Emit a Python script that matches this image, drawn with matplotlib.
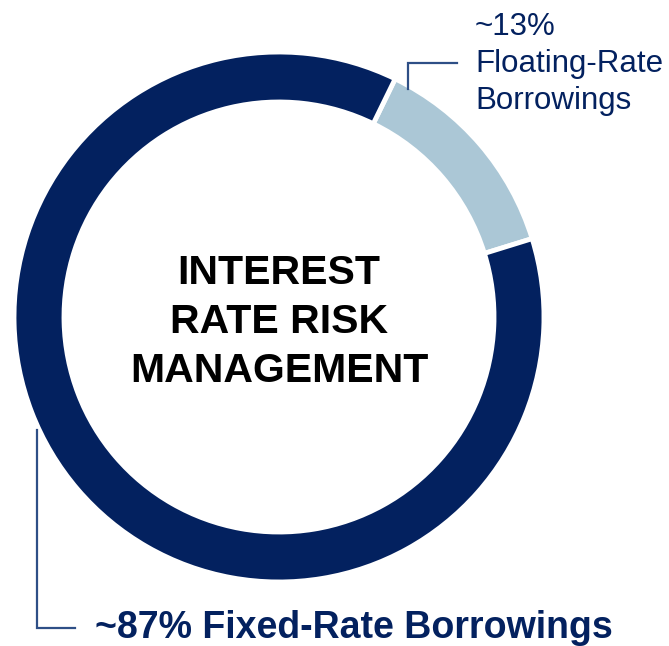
import matplotlib
matplotlib.use("Agg")
import matplotlib.pyplot as plt

categories = ["Floating-Rate Borrowings", "Fixed-Rate Borrowings"]
shares = [13, 87]
share_labels = ["~13%", "~87%"]
center_title = "INTEREST\nRATE RISK\nMANAGEMENT"

NAVY = "#03215f"
LIGHT = "#abc7d6"
LINE = "#2e4f86"

W, H = 669, 646
fig = plt.figure(figsize=(W / 100, H / 100), dpi=100)
ax = fig.add_axes([0, 0, 1, 1])

cx, cy, R = 279, H - 317, 265
ax.pie(shares, colors=[LIGHT, NAVY], startangle=64, counterclock=False,
       center=(cx, cy), radius=R,
       wedgeprops=dict(width=50, edgecolor="white", linewidth=3.5))
ax.set_xlim(0, W)
ax.set_ylim(0, H)
ax.set_aspect("equal")
ax.axis("off")

ax.text(cx, H - 322, center_title, ha="center", va="center",
        fontsize=29.5, fontweight="bold", family="Liberation Sans",
        color="black", linespacing=1.38)

# Floating label
ax.plot([408, 408, 457], [H - 89, H - 63, H - 63], color=LINE, lw=1.6,
        solid_joinstyle="miter")
ax.text(475, H - 64, f"{share_labels[0]}\nFloating-Rate\nBorrowings",
        ha="left", va="center", fontsize=22.5, family="Liberation Sans",
        color=NAVY, linespacing=1.32)

# Fixed label
ax.plot([37, 37, 75], [H - 430, H - 628, H - 628], color=LINE, lw=1.6,
        solid_joinstyle="miter")
ax.text(95, H - 628, f"{share_labels[1]} Fixed-Rate Borrowings",
        ha="left", va="center", fontsize=27, fontweight="bold",
        family="Liberation Sans", color=NAVY)

fig.savefig("out.png", dpi=100)
